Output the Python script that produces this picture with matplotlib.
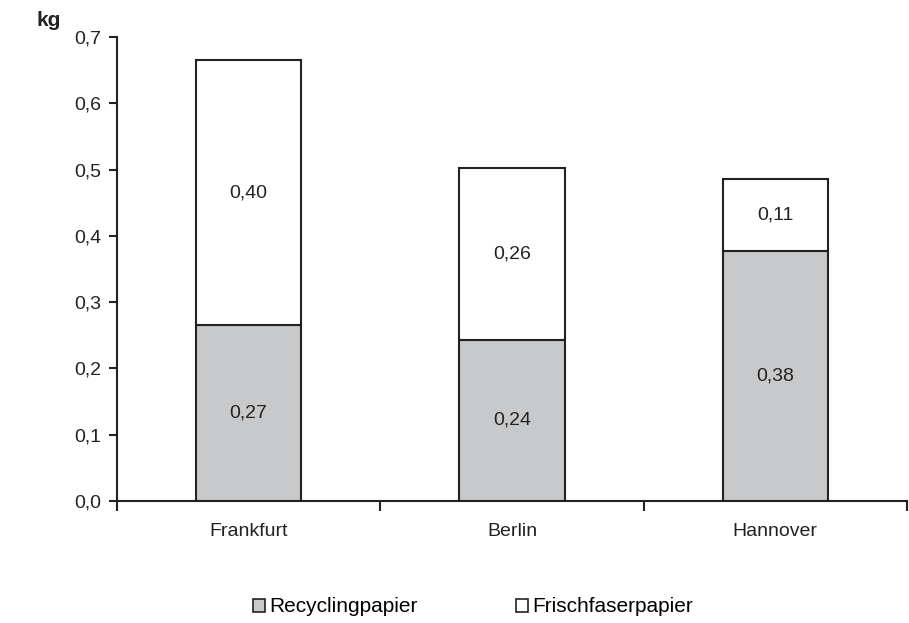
import matplotlib
matplotlib.use("Agg")
from matplotlib import pyplot as plt
import numpy as np

plt.rcParams['font.family'] = ['Liberation Sans', 'DejaVu Sans']

cities = ['Frankfurt', 'Berlin', 'Hannover']
recycling = [0.265, 0.243, 0.377]
frischfaser = [0.40, 0.26, 0.109]
recycling_labels = ['0,27', '0,24', '0,38']
frischfaser_labels = ['0,40', '0,26', '0,11']
yticks = [0.0, 0.1, 0.2, 0.3, 0.4, 0.5, 0.6, 0.7]

fig = plt.figure(figsize=(9.09, 6.23), dpi=100)
ax = fig.add_axes([117 / 909, 122 / 623, 790 / 909, 464 / 623])

x = np.arange(len(cities))
b1 = ax.bar(x, recycling, 0.4, color='#c8c9cb', edgecolor='#222222', linewidth=1.5,
            label='Recyclingpapier')
b2 = ax.bar(x, frischfaser, 0.4, bottom=recycling, color='white', edgecolor='#222222',
            linewidth=1.5, label='Frischfaserpapier')

for i in range(len(cities)):
    ax.text(x[i], recycling[i] / 2, recycling_labels[i], ha='center', va='center',
            fontsize=14, color='#222222')
    ax.text(x[i], recycling[i] + frischfaser[i] / 2, frischfaser_labels[i], ha='center',
            va='center', fontsize=14, color='#222222')

ax.set_xlim(-0.5, 2.5)
ax.set_ylim(0, 0.7)
ax.set_yticks(yticks)
ax.set_yticklabels([('%.1f' % v).replace('.', ',') for v in yticks], fontsize=14,
                   color='#222222')
ax.set_xticks([-0.5, 0.5, 1.5, 2.5])
ax.set_xticklabels([])
ax.set_xticks(x, minor=True)
ax.set_xticklabels(cities, minor=True, fontsize=14, color='#222222')
ax.tick_params(axis='x', which='minor', length=0, pad=16)
ax.tick_params(axis='x', which='major', length=7, width=1.5, color='#222222')
ax.tick_params(axis='y', length=6, width=1.5, color='#222222', pad=5)
ax.spines['top'].set_visible(False)
ax.spines['right'].set_visible(False)
ax.spines['left'].set_linewidth(1.5)
ax.spines['bottom'].set_linewidth(1.5)
ax.spines['left'].set_color('#222222')
ax.spines['bottom'].set_color('#222222')

fig.text(37 / 909, 1 - 21 / 623, 'kg', fontsize=15, fontweight='bold', va='center',
         color='#222222')

leg = fig.legend(handles=[b1, b2], loc='center', bbox_to_anchor=(473 / 909, 1 - 607 / 623),
                 ncol=2, frameon=False, fontsize=15, handlelength=0.6, handleheight=0.6,
                 handletextpad=0.2, columnspacing=4.7)
for h in leg.legend_handles:
    h.set_linewidth(1.2)

fig.savefig('out.png', dpi=100)
